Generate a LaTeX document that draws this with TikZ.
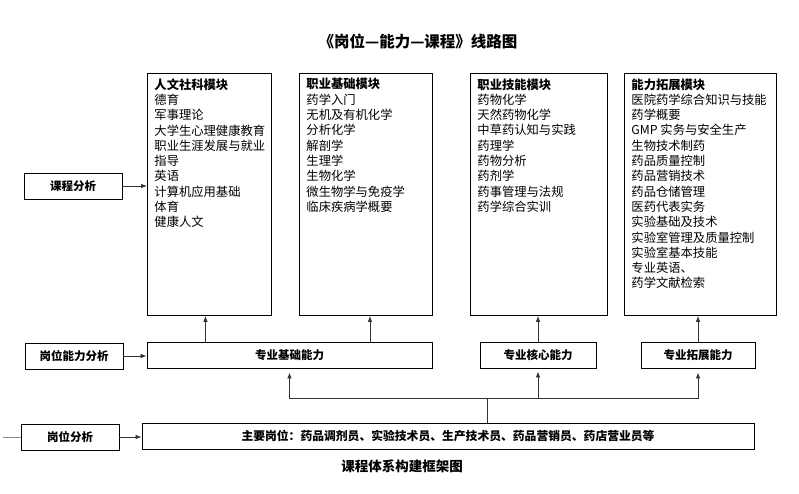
\documentclass[tikz,border=0pt]{standalone}
\usepackage{fontspec}
\setmainfont{Noto Sans CJK SC}
\usetikzlibrary{arrows.meta, calc}

% module text: fixed-height top-aligned block
\newcommand{\modtext}[2]{\parbox[t][232pt][t]{#1}{\fontsize{12.3}{15.3}\selectfont #2}}

\begin{document}
\begin{tikzpicture}[
        x=1pt, y=-1pt,
        modbox/.style={draw, line width=0.9pt, anchor=north west, inner xsep=7pt, inner ysep=5pt, align=left},
        capbox/.style={draw, line width=0.9pt, minimum height=26pt, inner sep=0pt, font=\fontsize{11.5}{13}\selectfont\bfseries},
        line/.style={line width=0.7pt, black!80},
        arr/.style={-{Latex[length=6pt,width=4.5pt]}, line width=0.7pt, black!80}
    ]
    \useasboundingbox (0,0) rectangle (799,493);

    % Title
    \node[font=\fontsize{15.5}{17}\selectfont\bfseries] (title) at (418,42) {《岗位—能力—课程》线路图};

    % Course modules
    \node[modbox] (renwen) at (147,73) {\modtext{110pt}{\textbf{人文社科模块}\\德育\\军事理论\\大学生心理健康教育\\职业生涯发展与就业\\指导\\英语\\计算机应用基础\\体育\\健康人文}};
    \node[modbox] (jcmod) at (299,73) {\modtext{119pt}{\textbf{职业基础模块}\\药学入门\\无机及有机化学\\分析化学\\解剖学\\生理学\\生物化学\\微生物学与免疫学\\临床疾病学概要}};
    \node[modbox] (jnmod) at (470,73) {\modtext{123pt}{\textbf{职业技能模块}\\药物化学\\天然药物化学\\中草药认知与实践\\药理学\\药物分析\\药剂学\\药事管理与法规\\药学综合实训}};
    \node[modbox] (tzmod) at (624,73) {\modtext{138pt}{\textbf{能力拓展模块}\\医院药学综合知识与技能\\药学概要\\GMP 实务与安全生产\\生物技术制药\\药品质量控制\\药品营销技术\\药品仓储管理\\医药代表实务\\实验基础及技术\\实验室管理及质量控制\\实验室基本技能\\专业英语、\\药学文献检索}};

    % Left: analysis steps
    \node[capbox, minimum width=98pt] (kecheng) at (73,186) {课程分析};
    \node[capbox, minimum width=98pt] (gwnl) at (74,356) {岗位能力分析};
    \node[capbox, minimum width=98pt] (gangwei) at (70,437) {岗位分析};

    % Abilities
    \node[capbox, minimum width=285pt] (jichu) at (289.5,355) {专业基础能力};
    \node[capbox, minimum width=116pt] (hexin) at (538,355) {专业核心能力};
    \node[capbox, minimum width=114pt] (tuozhan) at (698,355) {专业拓展能力};

    % Posts
    \node[capbox, minimum width=612pt, font=\fontsize{11.8}{13}\selectfont\bfseries] (posts) at (448,436) {主要岗位：药品调剂员、实验技术员、生产技术员、药品营销员、药店营业员等};

    % Caption
    \node[font=\fontsize{13.5}{15}\selectfont\bfseries] (caption) at (402,466) {课程体系构建框架图};

    % Arrows from the left
    \draw[arr] (kecheng.east) -- (kecheng.east -| renwen.west);
    \draw[arr] (gwnl.east) -- (gwnl.east -| jichu.west);
    \draw[arr] (gangwei.east) -- (gangwei.east -| posts.west);
    \coordinate (edge) at (3,437);
    \draw[line, black!45] (edge) -- (gangwei.west);

    % Abilities up to modules
    \draw[arr] ($(renwen.south |- jichu.north)+(-4,0)$) -- ($(renwen.south)+(-4,0)$);
    \draw[arr] ($(jcmod.south |- jichu.north)+(4,0)$) -- ($(jcmod.south)+(4,0)$);
    \draw[arr] (hexin.north) -- (hexin.north |- jnmod.south);
    \draw[arr] (tuozhan.north) -- (tuozhan.north |- tzmod.south);

    % Posts up to abilities
    \coordinate (fork) at (487,398);
    \draw[line] (posts.north -| fork) -- (fork);
    \draw[arr, shorten >=4pt] (fork) -| (jichu.south);
    \draw[arr, shorten >=4pt] (fork) -| (tuozhan.south);
    \draw[arr, shorten >=3pt] (fork -| hexin.south) -- (hexin.south);

\end{tikzpicture}
\end{document}
